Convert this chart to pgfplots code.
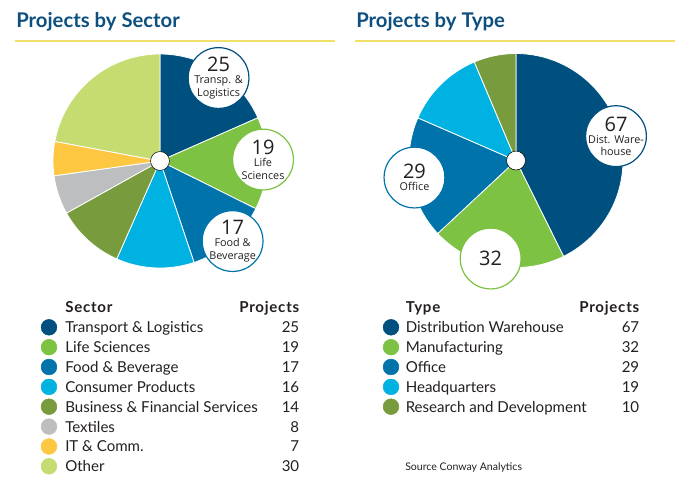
\documentclass[border=0pt]{standalone}
\usepackage{fontspec}
\setmainfont{Lato}
\newfontfamily\pief{Open Sans}
\usepackage{pgfplots}
\pgfplotsset{compat=1.18}
\usepgfplotslibrary{polar}
\definecolor{cA}{HTML}{00507F}
\definecolor{cB}{HTML}{7DC243}
\definecolor{cC}{HTML}{0074AA}
\definecolor{cD}{HTML}{00B2E2}
\definecolor{cE}{HTML}{789B3E}
\definecolor{cF}{HTML}{BCBEC0}
\definecolor{cG}{HTML}{FDC742}
\definecolor{cH}{HTML}{C4DC70}
\definecolor{ttl}{HTML}{0D5080}
\definecolor{yl}{HTML}{F0E06A}
\definecolor{txt}{HTML}{231F20}

\newcommand\slice[2]{%
  \pgfmathsetmacro\aS{90-\cum/\T*360}%
  \pgfmathsetmacro\cumN{\cum+#1}%
  \pgfmathsetmacro\aE{90-\cumN/\T*360}%
  \xdef\cum{\cumN}%
  \edef\tmp{\noexpand\addplot[fill=#2, draw=white, line width=0.6pt, domain=\aE:\aS, samples=80] {1} -- (axis cs:0,0) -- cycle;}%
  \tmp}
\newcommand\bubble[4]{% angle radius color text
  \addplot[only marks, mark=*, mark size=22.8pt, mark options={fill=white, draw=#3, line width=0.9pt},
    nodes near coords={#4},
    every node near coord/.style={anchor=center, align=center, inner sep=0pt, text=txt, font=\pief\fontsize{8.1}{9.2}\selectfont}] coordinates {(#1,#2)};}
\pgfplotsset{pie/.style={anchor=origin, hide axis, scale only axis, width=160.5pt, height=160.5pt, xmin=0, xmax=360, ymin=0, ymax=1, clip=false},
  dot/.style={only marks, mark=*, mark size=5.9pt, color=#1, mark options={draw=#1, fill=#1}}}
\newcommand\bignum[1]{{\fontsize{15}{15}\selectfont #1}}

\begin{document}
\begin{tikzpicture}
\path[use as bounding box] (0,0) rectangle (517.5pt,-366.75pt);

% left pie
\begin{polaraxis}[pie, at={(120pt,-120.75pt)}]
\gdef\cum{0}\def\T{136}
\slice{25}{cA}
\slice{19}{cB}
\slice{17}{cC}
\slice{16}{cD}
\slice{14}{cE}
\slice{8}{cF}
\slice{7}{cG}
\slice{30}{cH}
\addplot[only marks, mark=*, mark size=7.1pt, mark options={fill=white, draw=none}] coordinates {(0,0)};
\bubble{54.8}{0.949}{cA}{\bignum{25}\\[0pt]Transp. \&\\Logistics}
\bubble{0.8}{0.963}{cB}{\bignum{19}\\[0pt]Life\\Sciences}
\bubble{-47.8}{1.01}{cC}{\bignum{17}\\[0pt]Food \&\\Beverage}
\end{polaraxis}

% right pie
\begin{polaraxis}[pie, at={(387pt,-120.4pt)}]
\gdef\cum{0}\def\T{157}
\slice{67}{cA}
\slice{32}{cB}
\slice{29}{cC}
\slice{19}{cD}
\slice{10}{cE}
\addplot[only marks, mark=*, mark size=7.1pt, mark options={fill=white, draw=none}] coordinates {(0,0)};
\bubble{13.7}{0.962}{cA}{\bignum{67}\\[0pt]Dist. Ware-\\house}
\bubble{189.5}{0.962}{cC}{\bignum{29}\\[0pt]Office}
\bubble{255.5}{0.946}{cB}{\bignum{32}}
\end{polaraxis}

% legend dots
\begin{axis}[at={(0,0)}, anchor=north west, scale only axis, width=517.5pt, height=366.75pt, xmin=0, xmax=690, ymin=0, ymax=489, y dir=reverse, hide axis, clip=false]
\addplot[dot=cA] coordinates {(49,327.3) (391,327.3)};
\addplot[dot=cB] coordinates {(49,347.2) (391,347.2)};
\addplot[dot=cC] coordinates {(49,367.0) (391,367.0)};
\addplot[dot=cD] coordinates {(49,386.9) (391,386.9)};
\addplot[dot=cE] coordinates {(49,406.7) (391,406.7)};
\addplot[dot=cF] coordinates {(49,426.6)};
\addplot[dot=cG] coordinates {(49,446.5)};
\addplot[dot=cH] coordinates {(49,466.3)};
\end{axis}

\begin{scope}[x=0.75pt,y=-0.75pt]
% titles
\node[anchor=base west, inner sep=0, text=ttl, font=\fontsize{15.2}{15.2}\selectfont\bfseries] at (16,27) {Projects by Sector};
\node[anchor=base west, inner sep=0, text=ttl, font=\fontsize{15.2}{15.2}\selectfont\bfseries] at (356,27) {Projects by Type};
\draw[yl, line width=1.5pt] (15,41) -- (335,41);
\draw[yl, line width=1.5pt] (355,41) -- (675,41);
% legend text
\begin{scope}[every node/.style={inner sep=0pt, text=txt, font=\fontsize{11.3}{12}\selectfont},
  hd/.style={font=\fontsize{11.3}{12}\selectfont\bfseries\addfontfeatures{LetterSpace=5}}]
\node[anchor=base west, hd] at (65,312.7) {Sector};
\node[anchor=base east, hd] at (299.5,312.7) {Projects};
\foreach \lab/\v [count=\i from 0] in {Transport \& Logistics/25, Life Sciences/19, Food \& Beverage/17, Consumer Products/16, Business \& Financial Services/14, Textiles/8, IT \& Comm./7, Other/30}{
  \node[anchor=base west] at (65,{332.7+19.86*\i}) {\lab};
  \node[anchor=base east] at (299.5,{332.7+19.86*\i}) {\v};
}
\node[anchor=base west, hd] at (405.5,312.7) {Type};
\node[anchor=base east, hd] at (639.5,312.7) {Projects};
\foreach \lab/\v [count=\i from 0] in {Distribution Warehouse/67, Manufacturing/32, Office/29, Headquarters/19, Research and Development/10}{
  \node[anchor=base west] at (405.5,{332.7+19.86*\i}) {\lab};
  \node[anchor=base east] at (639.5,{332.7+19.86*\i}) {\v};
}
\node[anchor=base west, font=\fontsize{7.9}{9}\selectfont] at (405,470.7) {Source Conway Analytics};
\end{scope}
\end{scope}
\end{tikzpicture}
\end{document}
